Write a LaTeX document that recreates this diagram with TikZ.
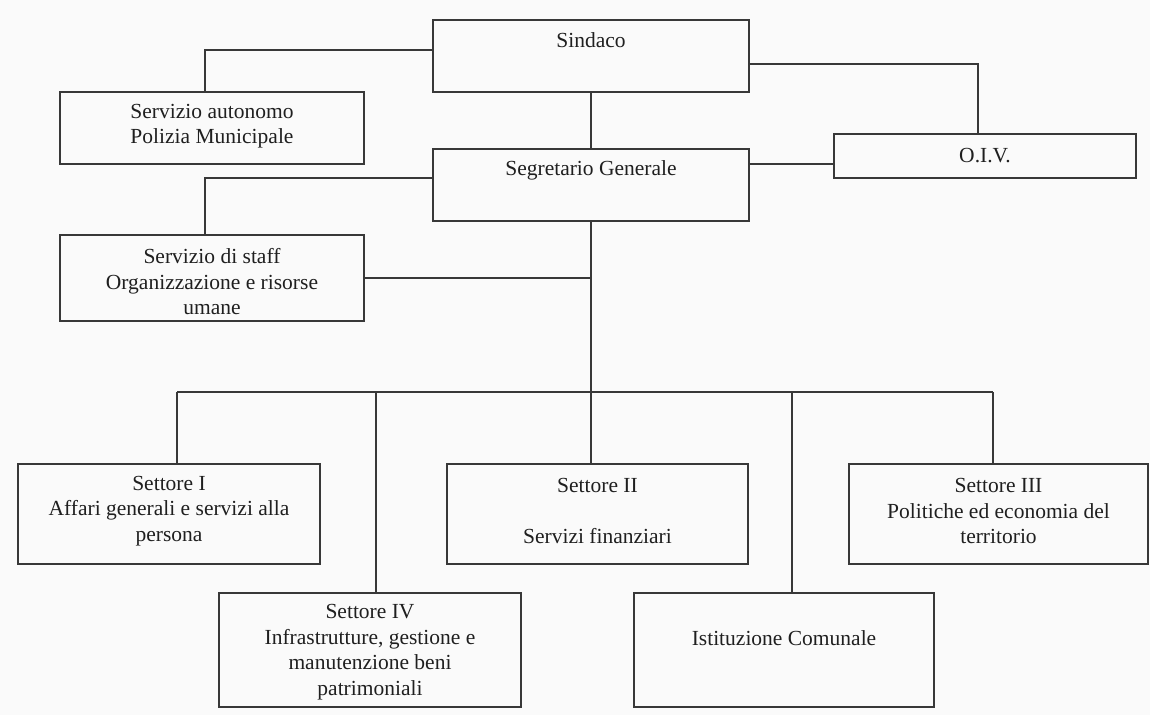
\documentclass[tikz,border=0pt]{standalone}
\usepackage{fontspec}
\setmainfont{Liberation Serif}
\begin{document}
\begin{tikzpicture}[x=1pt,y=-1pt,
  box/.style={draw=black!78,line width=1.7pt,rectangle,inner sep=0pt},
  txt/.style={align=center,text=black!88,inner sep=0pt,font=\fontsize{21.5}{25.5}\selectfont},
  conn/.style={draw=black!78,line width=1.6pt}]
\fill[white!98!black] (0,0) rectangle (1150,715);
\useasboundingbox (0,0) rectangle (1150,715);
% boxes
\node[box,minimum width=316,minimum height=72] (sind) at (591,56) {};
\node[box,minimum width=304,minimum height=72] (pol) at (212,128) {};
\node[box,minimum width=302,minimum height=44] (oiv) at (985,156) {};
\node[box,minimum width=316,minimum height=72] (seg) at (591,185) {};
\node[box,minimum width=304,minimum height=86] (staff) at (212,278) {};
\node[box,minimum width=302,minimum height=100] (s1) at (169,514) {};
\node[box,minimum width=301,minimum height=100] (s2) at (597.5,514) {};
\node[box,minimum width=299,minimum height=100] (s3) at (998.5,514) {};
\node[box,minimum width=302,minimum height=114] (s4) at (370,650) {};
\node[box,minimum width=300,minimum height=114] (ist) at (784,650) {};
% texts
\node[txt] (tsind) at (591,40) {Sindaco};
\node[txt] (tseg) at (591,170) {Segretario Generale};
\node[txt] (tpol) at (212,126) {Servizio autonomo\\Polizia Municipale};
\node[txt] (toiv) at (985,156) {O.I.V.};
\node[txt] (tstaff) at (212,282) {Servizio di staff\\Organizzazione e risorse\\umane};
\node[txt] (ts1) at (169,511) {Settore I\\Affari generali e servizi alla\\persona};
\node[txt] (ts2) at (597.5,511) {Settore II\\[25.5pt]Servizi finanziari};
\node[txt] (ts3) at (998.5,511) {Settore III\\Politiche ed economia del\\territorio};
\node[txt] (ts4) at (370,652) {Settore IV\\Infrastrutture, gestione e\\manutenzione beni\\patrimoniali};
\node[txt] (tist) at (784,638) {Istituzione Comunale};
% connector points
\coordinate (pA) at (433,50);
\coordinate (pB) at (205,50);
\coordinate (pC) at (749,64);
\coordinate (pD) at (978,64);
\coordinate (pE) at (749,164);
\coordinate (pF) at (433,178);
\coordinate (pG) at (205,178);
\coordinate (busL) at (177,392);
\coordinate (busR) at (993,392);
\coordinate (b4) at (376,392);
\coordinate (bi) at (792,392);
% connectors
\draw[conn] (pA) -- (pB) -- (pB |- pol.north);
\draw[conn] (pC) -- (pD) -- (pD |- oiv.north);
\draw[conn] (sind.south) -- (seg.north);
\draw[conn] (pE) -- (pE -| oiv.west);
\draw[conn] (pF) -- (pG) -- (pG |- staff.north);
\draw[conn] (seg.south) -- (seg.south |- s2.north);
\draw[conn] (staff.east) -- (staff.east -| seg.south);
\draw[conn] (busL) -- (busR);
\draw[conn] (busL) -- (busL |- s1.north);
\draw[conn] (busR) -- (busR |- s3.north);
\draw[conn] (b4) -- (b4 |- s4.north);
\draw[conn] (bi) -- (bi |- ist.north);
\end{tikzpicture}
\end{document}
